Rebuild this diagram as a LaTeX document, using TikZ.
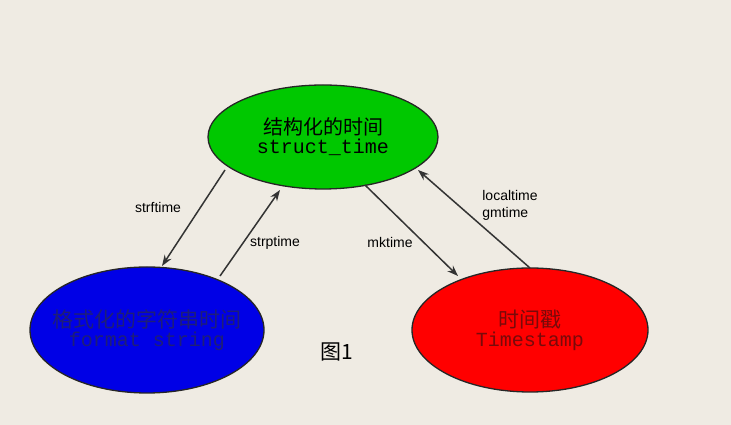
\documentclass[tikz,border=0pt]{standalone}
\usepackage{fontspec}
\setmainfont{Liberation Sans}
\setmonofont{Liberation Mono}
\newfontfamily\cjk{Noto Sans CJK SC}
\usetikzlibrary{shapes.geometric,arrows.meta}
\begin{document}
\begin{tikzpicture}[x=1pt,y=1pt,
  ell/.style={ellipse,draw=black!85,line width=1.3pt,inner sep=0pt},
  conn/.style={-{Stealth[length=11pt,width=8pt]},line width=1.5pt,draw=black!80},
  lab/.style={font=\fontsize{14}{17}\selectfont,align=left}]
\fill[fill={rgb,255:red,239;green,235;blue,227}] (0,0) rectangle (731,425);
\useasboundingbox (0,0) rectangle (731,425);
\node[ell,fill={rgb,255:red,0;green,200;blue,0},minimum width=230,minimum height=104,align=center] (g) at (323,288)
  {{\cjk\fontsize{20}{24}\selectfont 结构化的时间}\\[2pt]{\ttfamily\fontsize{20}{24}\selectfont struct\_time}};
\node[ell,fill={rgb,255:red,0;green,0;blue,230},minimum width=234,minimum height=126] (b) at (147,95) {};
\node[align=center,text={rgb,255:red,30;green,30;blue,120}] (bt) at (b.center)
  {{\cjk\fontsize{21}{25}\selectfont 格式化的字符串时间}\\[2pt]{\ttfamily\fontsize{20}{24}\selectfont format string}};
\node[ell,fill={rgb,255:red,255;green,0;blue,0},minimum width=236,minimum height=124,align=center,text={rgb,255:red,120;green,10;blue,10}] (r) at (530,95)
  {{\cjk\fontsize{21}{25}\selectfont 时间戳}\\[2pt]{\ttfamily\fontsize{20}{24}\selectfont Timestamp}};
\coordinate (a1) at (225,255); \coordinate (a2) at (162,159);
\coordinate (b1) at (220,149); \coordinate (b2) at (280,235);
\coordinate (c1) at (365,240); \coordinate (c2) at (458,149);
\coordinate (d1) at (530,157); \coordinate (d2) at (418,255);
\draw[conn] (a1) -- (a2);
\draw[conn] (b1) -- (b2);
\draw[conn] (c1) -- (c2);
\draw[conn] (d1) -- (d2);
\node[lab] (l1) at (158,217) {strftime};
\node[lab] (l2) at (275,182) {strptime};
\node[lab] (l3) at (390,182) {mktime};
\node[lab,align=left] (l4) at (510,220) {localtime\\gmtime};
\node[font=\cjk\fontsize{21}{24}\selectfont] (f) at (337,73) {图1};
\end{tikzpicture}
\end{document}
